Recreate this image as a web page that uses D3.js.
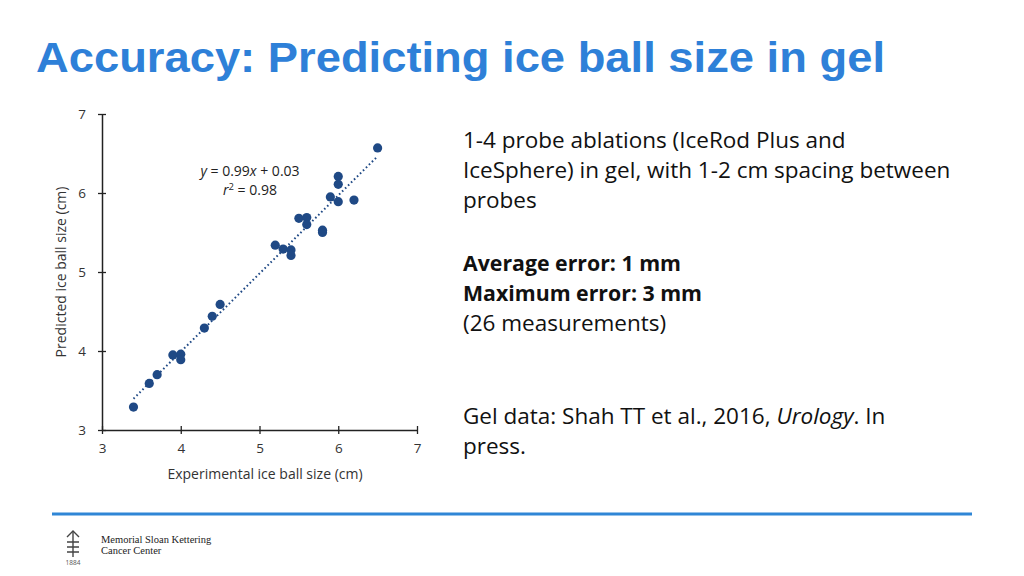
<!DOCTYPE html>
<html>
<head>
<meta charset="utf-8">
<script src="https://cdn.jsdelivr.net/npm/d3@7.9.0/dist/d3.min.js"></script>
<style>
  body { margin: 0; background: #fff; }
  svg { display: block; }
</style>
</head>
<body>
<svg width="1024" height="576"></svg>
<script>
// experimental (x) vs predicted (y) ice ball size, cm
const experimental = [3.4, 3.6, 3.7, 3.9, 4.0, 4.0, 4.3, 4.4, 4.5, 5.2, 5.3, 5.4, 5.4,
  5.5, 5.6, 5.6, 5.8, 5.8, 5.9, 6.0, 6.0, 6.0, 6.2, 6.5];
const predicted = [3.29, 3.59, 3.70, 3.95, 3.96, 3.89, 4.29, 4.44, 4.59, 5.34, 5.29, 5.28, 5.21,
  5.68, 5.69, 5.60, 5.53, 5.50, 5.95, 6.21, 6.11, 5.89, 5.91, 6.57];
const axisTicks = [3, 4, 5, 6, 7];
const fit = { slope: 0.99, intercept: 0.03, from: 3.4, to: 6.5 };

const svg = d3.select('svg');
const font = "'Open Sans', Lato, sans-serif";
const navy = '#1f4985';

// title
svg.append('text')
  .attr('x', 36).attr('y', 72)
  .attr('textLength', 849).attr('lengthAdjust', 'spacingAndGlyphs')
  .attr('font-family', "'Liberation Sans', Arial, sans-serif")
  .attr('font-weight', 'bold').attr('font-size', 43)
  .attr('fill', '#2e80d8')
  .text('Accuracy: Predicting ice ball size in gel');

const x = d3.scaleLinear().domain([3, 7]).range([102, 417]);
const y = d3.scaleLinear().domain([3, 7]).range([430, 114]);

const xAxis = svg.append('g').attr('transform', 'translate(0,430)')
  .call(d3.axisBottom(x).tickValues(axisTicks).tickFormat(d3.format('d'))
    .tickSize(4).tickSizeOuter(0).tickPadding(9));
const yAxis = svg.append('g').attr('transform', 'translate(102,0)')
  .call(d3.axisLeft(y).tickValues(axisTicks).tickFormat(d3.format('d'))
    .tickSize(4).tickSizeOuter(0).tickPadding(12));

[xAxis, yAxis].forEach(g => {
  g.select('.domain').attr('stroke', '#222').attr('stroke-width', 1.5);
  g.selectAll('.tick line').attr('stroke', '#222').attr('stroke-width', 1.3);
  g.selectAll('.tick text').attr('font-family', font).attr('font-size', 13.5).attr('fill', '#333');
});
// ticks cross the axis
xAxis.selectAll('.tick line').attr('y1', -4);
yAxis.selectAll('.tick line').attr('x1', 4);
yAxis.selectAll('.tick text').attr('dy', '0.35em');

svg.append('text')
  .attr('x', 265).attr('y', 479).attr('text-anchor', 'middle')
  .attr('font-family', font).attr('font-size', 14).attr('fill', '#333')
  .text('Experimental ice ball size (cm)');
svg.append('text')
  .attr('transform', 'translate(66,272) rotate(-90)').attr('text-anchor', 'middle')
  .attr('font-family', font).attr('font-size', 14).attr('fill', '#333')
  .text('Predicted ice ball size (cm)');

// trend line
svg.append('line')
  .attr('x1', x(fit.from)).attr('y1', y(fit.slope * fit.from + fit.intercept))
  .attr('x2', x(fit.to)).attr('y2', y(fit.slope * fit.to + fit.intercept))
  .attr('stroke', navy).attr('stroke-width', 2).attr('stroke-dasharray', '1.6,2.6');

svg.append('g').selectAll('circle')
  .data(experimental.map((d, i) => [d, predicted[i]]))
  .join('circle')
  .attr('cx', d => x(d[0])).attr('cy', d => y(d[1])).attr('r', 4.6)
  .attr('fill', navy);

// equation
const eq = svg.append('text').attr('x', 250).attr('y', 176).attr('text-anchor', 'middle')
  .attr('font-family', font).attr('font-size', 14).attr('fill', '#222');
eq.append('tspan').attr('font-style', 'italic').text('y');
eq.append('tspan').text(' = 0.99');
eq.append('tspan').attr('font-style', 'italic').text('x');
eq.append('tspan').text(' + 0.03');
const r2 = svg.append('text').attr('x', 250).attr('y', 195).attr('text-anchor', 'middle')
  .attr('font-family', font).attr('font-size', 14).attr('fill', '#222');
r2.append('tspan').attr('font-style', 'italic').text('r');
r2.append('tspan').attr('font-size', 9.5).attr('dy', -5).text('2');
r2.append('tspan').attr('dy', 5).text(' = 0.98');

// side text
const side = svg.append('g').attr('font-family', font).attr('font-size', 22.5).attr('fill', '#111');
const lines = [
  { t: '1-4 probe ablations (IceRod Plus and', y: 148 },
  { t: 'IceSphere) in gel, with 1-2 cm spacing between', y: 178 },
  { t: 'probes', y: 208 },
  { t: 'Average error: 1 mm', y: 271, b: true },
  { t: 'Maximum error: 3 mm', y: 301, b: true },
  { t: '(26 measurements)', y: 331 }
];
lines.forEach(l => {
  side.append('text').attr('x', 463).attr('y', l.y)
    .attr('font-size', l.b ? 21.3 : null)
    .attr('font-weight', l.b ? 'bold' : 'normal').text(l.t);
});
const ref = side.append('text').attr('x', 463).attr('y', 424);
ref.append('tspan').text('Gel data: Shah TT et al., 2016, ');
ref.append('tspan').attr('font-style', 'italic').text('Urology');
ref.append('tspan').text('. In');
side.append('text').attr('x', 463).attr('y', 454).text('press.');

// footer
svg.append('line').attr('x1', 52).attr('x2', 972).attr('y1', 514).attr('y2', 514)
  .attr('stroke', '#2f86d6').attr('stroke-width', 3);

const logo = svg.append('g').attr('stroke', '#444').attr('stroke-width', 1.4).attr('fill', 'none');
logo.append('path').attr('d', 'M67,537 L73,531 L79,537');
logo.append('path').attr('d', 'M73,532 L73,557');
logo.append('path').attr('d', 'M67,542 L79,542 M67,547 L79,547 M67,552 L79,552');
svg.append('text').attr('x', 73).attr('y', 565).attr('text-anchor', 'middle')
  .attr('font-family', font).attr('font-size', 6.5).attr('fill', '#555').text('1884');

const msk = svg.append('g').attr('font-family', "'Liberation Serif', 'DejaVu Serif', serif")
  .attr('font-size', 10.5).attr('fill', '#222');
msk.append('text').attr('x', 101).attr('y', 543).text('Memorial Sloan Kettering');
msk.append('text').attr('x', 101).attr('y', 554).text('Cancer Center');
</script>
</body>
</html>
